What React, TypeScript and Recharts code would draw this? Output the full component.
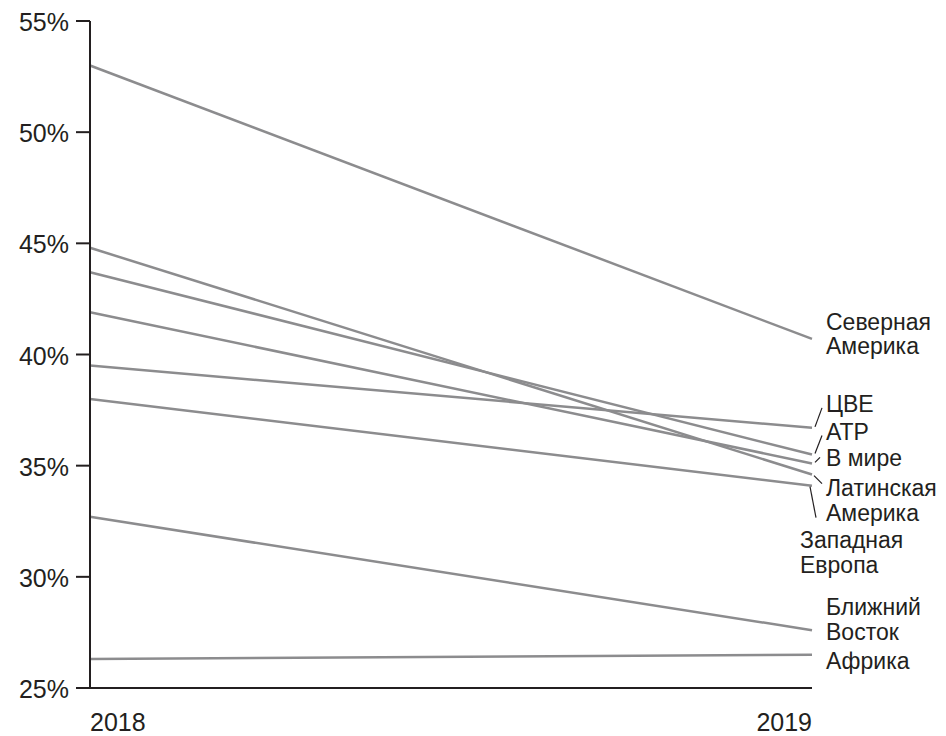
import React from "react";
import { LineChart, Line, XAxis, YAxis } from "recharts";

const years = [2018, 2019];
const yTicks = [25, 30, 35, 40, 45, 50, 55];
const seriesNames = [
  "Северная Америка",
  "ЦВЕ",
  "АТР",
  "В мире",
  "Латинская Америка",
  "Западная Европа",
  "Ближний Восток",
  "Африка",
];
const v2018 = [53.0, 39.5, 43.7, 41.9, 44.8, 38.0, 32.7, 26.3];
const v2019 = [40.7, 36.7, 35.5, 35.1, 34.6, 34.1, 27.6, 26.5];

// label layout: centre offset of first text line (relative to line end), x shift, connector
const labelLayout: { dy: number; dx: number; conn: [number, number, number, number] | null }[] = [
  { dy: -17, dx: 14, conn: null },
  { dy: -24, dx: 14, conn: [3, -1, 10, -20] },
  { dy: -23, dx: 14, conn: [3, -1, 10, -19] },
  { dy: -5, dx: 14, conn: [3, -1, 8, -6] },
  { dy: 13.5, dx: 14, conn: [2, 1, 10, 9] },
  { dy: 54.5, dx: -12, conn: [-2, 1, 4, 32] },
  { dy: -23, dx: 14, conn: null },
  { dy: 6, dx: 14, conn: null },
];

const data = years.map((y, i) => {
  const row: Record<string, number> = { year: y };
  seriesNames.forEach((n, k) => {
    row[n] = i === 0 ? v2018[k] : v2019[k];
  });
  return row;
});

const FONT = "'Liberation Sans', Arial, Helvetica, sans-serif";
const TXT = "#231f20";

const YTick = (props: any) => {
  const { x, y, payload } = props;
  return (
    <text x={x - 5} y={y} dy={10} textAnchor="end" fontSize={25} fill={TXT} fontFamily={FONT}>
      {payload.value}%
    </text>
  );
};

const XTick = (props: any) => {
  const { x, y, payload, index } = props;
  return (
    <text
      x={x}
      y={y + 35}
      textAnchor={index === 0 ? "start" : "end"}
      fontSize={25}
      fill={TXT}
      fontFamily={FONT}
    >
      {payload.value}
    </text>
  );
};

const makeLabel = (k: number) => (props: any) => {
  const { x, y, index } = props;
  if (index !== 1) return null;
  const lay = labelLayout[k];
  const words = seriesNames[k].split(" ");
  const lines = words.length > 1 && seriesNames[k] !== "В мире" ? words : [seriesNames[k]];
  const lh = 24.5;
  return (
    <g>
      {lay.conn && (
        <line
          x1={x + lay.conn[0]}
          y1={y + lay.conn[1]}
          x2={x + lay.conn[2]}
          y2={y + lay.conn[3]}
          stroke={TXT}
          strokeWidth={1.2}
        />
      )}
      {lines.map((t, i) => (
        <text
          key={i}
          x={x + lay.dx}
          y={y + lay.dy + i * lh}
          dy={8}
          fontSize={23}
          fill={TXT}
          fontFamily={FONT}
        >
          {t}
        </text>
      ))}
    </g>
  );
};

export default function App() {
  return (
    <LineChart
      width={938}
      height={728}
      data={data}
      margin={{ top: 13, right: 134, bottom: 0, left: 0 }}
    >
      <XAxis
        dataKey="year"
        type="number"
        domain={[2018, 2019]}
        ticks={years}
        tickLine={false}
        axisLine={{ stroke: TXT, strokeWidth: 2 }}
        tick={<XTick />}
        height={48}
        interval={0}
      />
      <YAxis
        type="number"
        domain={[25, 55]}
        ticks={yTicks}
        width={82}
        tickSize={14}
        tickLine={{ stroke: TXT, strokeWidth: 2 }}
        axisLine={{ stroke: TXT, strokeWidth: 2 }}
        tick={<YTick />}
        interval={0}
      />
      {seriesNames.map((n, k) => (
        <Line
          key={n}
          dataKey={n}
          stroke="#8c8c8e"
          strokeWidth={2.5}
          dot={false}
          isAnimationActive={false}
          label={makeLabel(k)}
        />
      ))}
    </LineChart>
  );
}
